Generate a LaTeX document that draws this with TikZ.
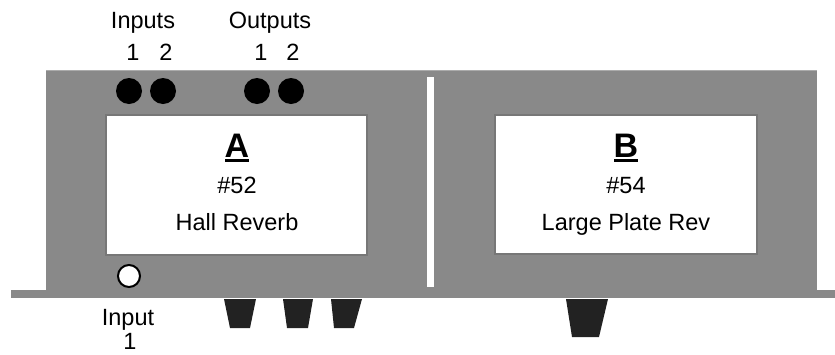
\documentclass[tikz,border=0pt]{standalone}
\usepackage{fontspec}
\setmainfont{Liberation Sans}
\definecolor{boxgray}{HTML}{898989}
\definecolor{topgray}{HTML}{ABABAB}
\definecolor{panelgray}{HTML}{777777}
\definecolor{footgray}{HTML}{222222}
\begin{document}
\begin{tikzpicture}[x=1pt,y=-1pt,
  lbl/.style={font=\fontsize{23.5}{25}\selectfont, anchor=base, inner sep=0pt},
  ptxt/.style={font=\fontsize{23.5}{25}\selectfont, anchor=base, inner sep=0pt},
  bigl/.style={font=\fontsize{34}{36}\selectfont\bfseries, anchor=base, inner sep=0pt},
  jack/.style={circle, fill=black, minimum size=26pt, inner sep=0pt},
  injack/.style={circle, draw=black, line width=2pt, fill=white, minimum size=22pt, inner sep=0pt},
  panel/.style={fill=white, draw=panelgray, line width=2pt},
  foot/.style={fill=footgray},
  uline/.style={line width=2.6pt}]
\useasboundingbox (0,0) rectangle (835,354);
% chassis
\fill[boxgray] (11,290) rectangle (835,298);
\fill[boxgray] (46,70) rectangle (817,298);
\draw[topgray, line width=1pt] (46,70.5) -- (817,70.5);
\fill[white] (427,77) rectangle (434,287);
% panels
\draw[panel] (106,115) rectangle (367,255);
\draw[panel] (495,115) rectangle (757,254);
% panel A text
\node[bigl] (la) at (237,157) {A};
\draw[uline] (225,160.3) -- (249.3,160.3);
\node[ptxt] (na) at (237,193) {\#52};
\node[ptxt] (ta) at (237,230) {Hall Reverb};
% panel B text
\node[bigl] (lb) at (626,157) {B};
\draw[uline] (614,160.3) -- (638,160.3);
\node[ptxt] (nb) at (626,193) {\#54};
\node[ptxt] (tb) at (626,230) {Large Plate Rev};
% jacks
\node[jack] (i1) at (129,91) {};
\node[jack] (i2) at (163,91) {};
\node[jack] (o1) at (257,91) {};
\node[jack] (o2) at (291,91) {};
\node[injack] (ij) at (129,276) {};
% labels
\node[lbl] (linp) at (143,28) {Inputs};
\node[lbl] (li1) at (133,60) {1};
\node[lbl] (li2) at (166,60) {2};
\node[lbl] (lout) at (270,28) {Outputs};
\node[lbl] (lo1) at (261,60) {1};
\node[lbl] (lo2) at (293,60) {2};
\node[lbl] (lin) at (128,325) {Input};
\node[lbl] (lin1) at (130,349) {1};
% feet
\fill[foot] (224,299) -- (256,299) -- (250,328) -- (230,328) -- cycle;
\fill[foot] (283,299) -- (313,299) -- (308,328) -- (287,328) -- cycle;
\fill[foot] (331,299) -- (362,299) -- (354,328) -- (334,328) -- cycle;
\fill[foot] (566,299) -- (608,299) -- (599,337) -- (572,337) -- cycle;
\end{tikzpicture}
\end{document}
